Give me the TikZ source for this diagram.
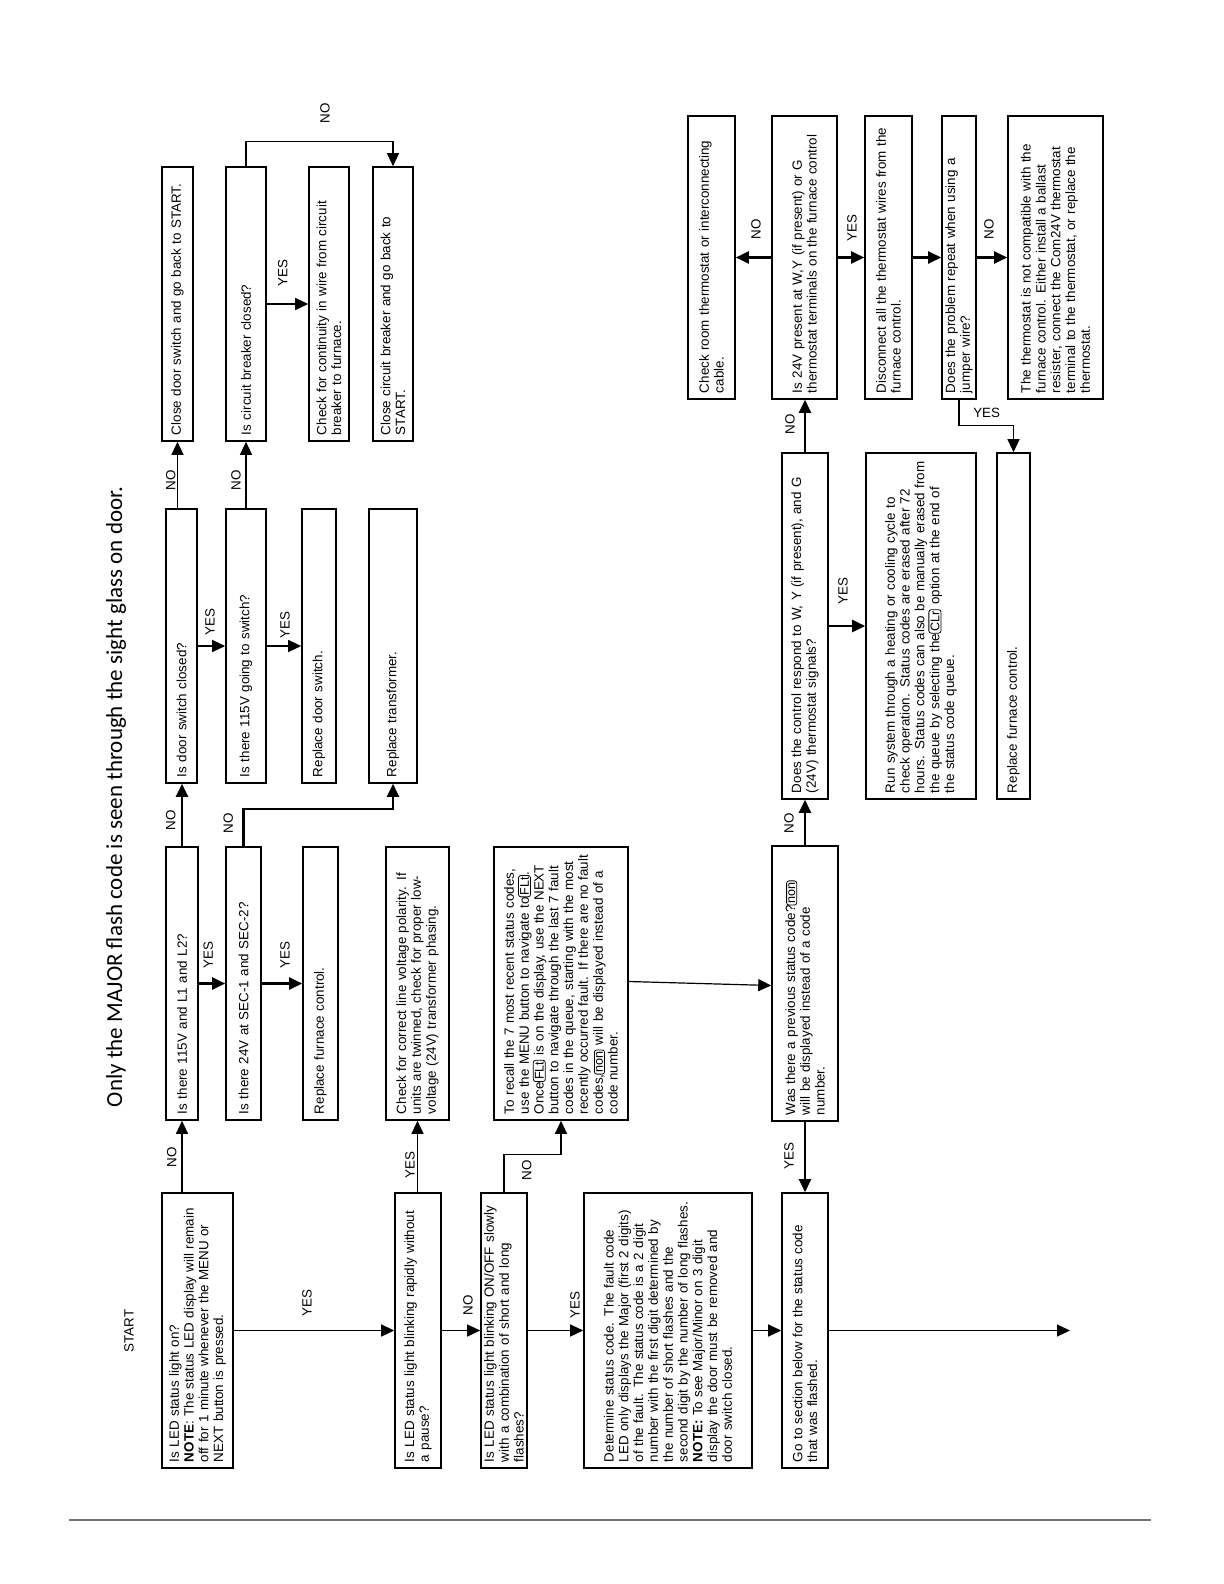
\documentclass[tikz,border=0pt]{standalone}
\usepackage{fontspec}
\setmainfont{Liberation Sans}
\newfontfamily\titlefont{Carlito}
\usetikzlibrary{arrows.meta}
\newcommand{\bfnt}{\fontsize{6.7}{7.4}\selectfont}
\newcommand{\segfnt}{\fontsize{6.3}{6.3}\selectfont}
\newcommand{\segbox}[1]{\tikz[baseline=(sb.base)]\node[draw,rounded corners=1.2pt,inner sep=0.8pt,minimum width=0pt,minimum height=0pt,text width={},align=center,line width=0.4pt,font=\segfnt](sb){#1};}
\begin{document}
\begin{tikzpicture}[x=0.5pt,y=-0.5pt,
  box/.style={draw,line width=0.8pt,rotate=90,inner xsep=3pt,inner ysep=0pt,align=left,font=\bfnt},
  arr/.style={-{Triangle[length=6.5pt,width=6pt]},line width=0.6pt},
  tarr/.style={arr,line width=1.1pt},
  lbl/.style={rotate=90,font=\bfnt,inner sep=0pt}]
\useasboundingbox (0,0) rectangle (1224,1584);

% title and start
\node[rotate=90,font=\titlefont\fontsize{11.5}{13}\selectfont] (title) at (116,797) {Only the MAJOR flash code is seen through the sight glass on door.};
\node[lbl] (start) at (129,1331) {START};

% bottom row (y ~ 1330)
\node[box,minimum width=137.5pt,minimum height=35.5pt,text width=131.5pt] (A) at (197.5,1330.5)
 {Is LED status light on?\\ \textbf{NOTE}: The status LED display will remain\\ off for 1 minute whenever the MENU or\\ NEXT button is pressed.};
\node[box,minimum width=137.5pt,minimum height=23pt,text width=131.5pt] (K) at (418,1330.5)
 {Is LED status light blinking rapidly without\\ a pause?};
\node[box,minimum width=137.5pt,minimum height=23pt,text width=131.5pt] (O) at (504,1330.5)
 {Is LED status light blinking ON/OFF slowly\\ with a combination of short and long\\ flashes?};
\node[box,minimum width=137.5pt,minimum height=84pt,text width=131.5pt] (Q) at (668,1330.5)
 {Determine status code. The fault code\\ LED only displays the Major (first 2 digits)\\ of the fault. The status code is a 2 digit\\ number with the first digit determined by\\ the number of short flashes and the\\ second digit by the number of long flashes.\\ \textbf{NOTE:} To see Major/Minor on 3 digit\\ display the door must be removed and\\ door switch closed.};
\node[box,minimum width=137.5pt,minimum height=23pt,text width=131.5pt] (R) at (805,1330.5)
 {Go to section below for the status code\\ that was flashed.};

% second row (y ~ 983)
\node[box,minimum width=136.5pt,minimum height=16pt,text width=130.5pt] (B) at (182,983.5)
 {Is there 115V and L1 and L2?};
\node[box,minimum width=136.5pt,minimum height=17.5pt,text width=130.5pt] (E) at (243.5,983.5)
 {Is there 24V at SEC-1 and SEC-2?};
\node[box,minimum width=136.5pt,minimum height=17.5pt,text width=130.5pt] (H) at (320.5,983.5)
 {Replace furnace control.};
\node[box,minimum width=136.5pt,minimum height=31.5pt,text width=130.5pt] (L) at (417.5,983.5)
 {Check for correct line voltage polarity. If\\ units are twinned, check for proper low-\\ voltage (24V) transformer phasing.};
\node[box,minimum width=136.5pt,minimum height=67pt,text width=130.5pt] (P) at (561,983.5)
 {To recall the 7 most recent status codes,\\ use the MENU button to navigate to\segbox{FLt}.\\ Once\segbox{FLt} is on the display, use the NEXT\\ button to navigate through the last 7 fault\\ codes in the queue, starting with the most\\ recently occurred fault. If there are no fault\\ codes,\segbox{non} will be displayed instead of a\\ code number.};
\node[box,minimum width=137.5pt,minimum height=33pt,text width=131.5pt] (S) at (805,983.5)
 {Was there a previous status code?\segbox{non}\\ will be displayed instead of a code\\ number.};

% third row (y ~ 646)
\node[box,minimum width=137pt,minimum height=15.5pt,text width=131pt] (C) at (181.5,646)
 {Is door switch closed?};
\node[box,minimum width=137pt,minimum height=20pt,text width=131pt] (F) at (246,646)
 {Is there 115V going to switch?};
\node[box,minimum width=137pt,minimum height=17pt,text width=131pt] (I) at (319,646)
 {Replace door switch.};
\node[box,minimum width=137pt,minimum height=24pt,text width=131pt] (M) at (393,646)
 {Replace transformer.};

% top row (y ~ 304)
\node[box,minimum width=137pt,minimum height=15.5pt,text width=131pt] (D) at (177.5,304)
 {Close door switch and go back to START.};
\node[box,minimum width=137pt,minimum height=20pt,text width=131pt] (G) at (246,304)
 {Is circuit breaker closed?};
\node[box,minimum width=137pt,minimum height=20pt,text width=131pt] (J) at (329,304)
 {Check for continuity in wire from circuit\\ breaker to furnace.};
\node[box,minimum width=137pt,minimum height=20pt,text width=131pt] (N) at (393,304)
 {Close circuit breaker and go back to\\ START.};

% right block, middle row (y ~ 626)
\node[box,minimum width=173pt,minimum height=23pt,text width=167pt] (T) at (805,626)
 {Does the control respond to W, Y (if present), and G\\ (24V) thermostat signals?};
\node[box,minimum width=173pt,minimum height=55pt,text width=167pt] (W) at (921,626)
 {Run system through a heating or cooling cycle to\\ check operation. Status codes are erased after 72\\ hours. Status codes can also be manually erased from\\ the queue by selecting the\segbox{CLr} option at the end of\\ the status code queue.};
\node[box,minimum width=173pt,minimum height=16.5pt,text width=167pt] (AA) at (1013.5,626)
 {Replace furnace control.};

% right block, top row (y ~ 257)
\node[box,minimum width=141.5pt,minimum height=23.5pt,text width=135.5pt] (V) at (711.5,257.5)
 {Check room thermostat or interconnecting\\ cable.};
\node[box,minimum width=141.5pt,minimum height=32.5pt,text width=135.5pt] (U) at (804.5,257.5)
 {Is 24V present at W,Y (if present) or G\\ thermostat terminals on the furnace control};
\node[box,minimum width=141.5pt,minimum height=23.5pt,text width=135.5pt] (X) at (888.5,257.5)
 {Disconnect all the thermostat wires from the\\ furnace control.};
\node[box,minimum width=141.5pt,minimum height=17pt,text width=135.5pt] (Y) at (959,257.5)
 {Does the problem repeat when using a\\ jumper wire?};
\node[box,minimum width=141.5pt,minimum height=47.5pt,text width=135.5pt] (Z) at (1055.5,257.5)
 {The thermostat is not compatible with the\\ furnace control. Either install a ballast\\ resister, connect the Com24V thermostat\\ terminal to the thermostat, or replace the\\ thermostat.};

\coordinate (out) at (1070,1330.5);

% connectors
\draw[arr] (A.south) -- (K.north);
\draw[arr] (B.west |- A.east) -- (B.west);
\draw[arr] (L.west |- K.east) -- (L.west);
\draw[arr] (K.south) -- (O.north);
\draw[arr] (O.south) -- (Q.north);
\draw[arr] (O.east) -- ++(0,-38) -| (P.west);
\draw[arr] (Q.south) -- (R.north);
\draw[arr] (R.south) -- (out);
\draw[tarr] (B.south) -- (E.north);
\draw[tarr] (E.south) -- (H.north);
\draw[tarr] (B.east) -- (B.east |- C.west);
\draw[tarr] (E.east) -- ++(0,-37) -| (M.west);
\draw[arr] (C.south) -- (F.north);
\draw[arr] (F.south) -- (I.north);
\draw[arr] (D.west |- C.east) -- (D.west);
\draw[arr] (F.east) -- (G.west);
\draw[arr] (G.south) -- (J.north);
\draw[arr] (G.east) -- ++(0,-25) -| (N.east);
\draw[arr] ([yshift=1pt]P.south) -- ([yshift=-1pt]S.north);
\draw[tarr] (S.west) -- (R.east);
\draw[tarr] (S.east) -- (T.west);
\draw[tarr] (T.south) -- (W.north);
\draw[tarr] (T.east) -- (T.east |- U.west);
\draw[tarr] (U.north) -- (V.south);
\draw[tarr] (U.south) -- (X.north);
\draw[tarr] (X.south) -- (Y.north);
\draw[tarr] (Y.south) -- (Z.north);
\draw[arr] (Y.west) -- ++(0,26) -| (AA.east);

% labels
\node[lbl] (l1) at (307,1303) {YES};
\node[lbl] (l2) at (171.7,1157) {NO};
\node[lbl] (l3) at (410,1165) {YES};
\node[lbl] (l4) at (468,1305) {NO};
\node[lbl] (l5) at (575,1305) {YES};
\node[lbl] (l6) at (526.7,1170) {NO};
\node[lbl] (l7) at (208.3,955) {YES};
\node[lbl] (l8) at (285,955) {YES};
\node[lbl] (l9) at (170.7,820) {NO};
\node[lbl] (l10) at (228.3,823) {NO};
\node[lbl] (l11) at (210,622) {YES};
\node[lbl] (l12) at (285,625) {YES};
\node[lbl] (l13) at (170.7,480) {NO};
\node[lbl] (l14) at (236,480) {NO};
\node[lbl] (l15) at (282.7,273) {YES};
\node[lbl] (l16) at (325,113) {NO};
\node[lbl] (l17) at (789,1156) {YES};
\node[lbl] (l18) at (789,823) {NO};
\node[lbl] (l19) at (843,591) {YES};
\node[lbl] (l20) at (790,424) {NO};
\node[lbl] (l21) at (756,229) {NO};
\node[lbl] (l22) at (852,228) {YES};
\node[lbl] (l23) at (989,229) {NO};
\node[font=\bfnt,inner sep=0pt] (l24) at (986.7,412.7) {YES};

% page rule
\draw[line width=1pt,color=black!55] (69,1520) -- (1151,1520);
\end{tikzpicture}
\end{document}
